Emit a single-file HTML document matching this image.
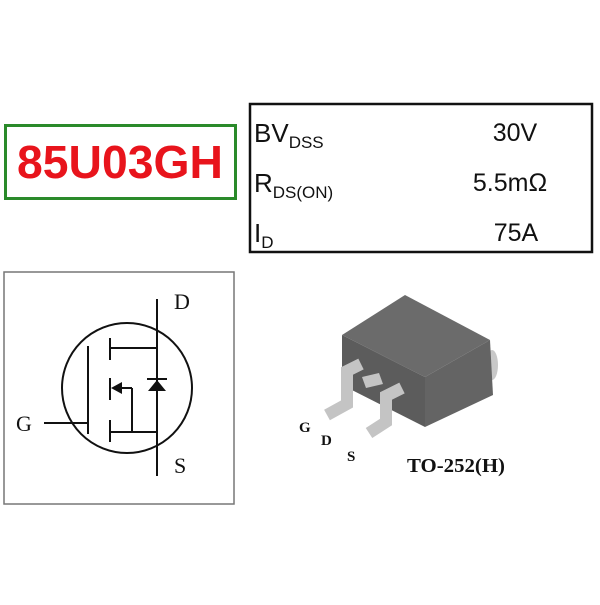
<!DOCTYPE html>
<html><head><style>body{margin:0;background:#fff}</style></head><body>
<svg width="600" height="600" xmlns="http://www.w3.org/2000/svg">
<rect x="5.5" y="125.5" width="230" height="73" fill="none" stroke="#2a8a2a" stroke-width="3"/>
<text x="120" y="178" text-anchor="middle" font-family="Liberation Sans, sans-serif" font-weight="bold" font-size="46" fill="#e8141c" textLength="206" lengthAdjust="spacingAndGlyphs">85U03GH</text>
<rect x="250" y="104" width="342" height="148" fill="none" stroke="#111" stroke-width="2.5"/>
<g font-family="Liberation Sans, sans-serif" fill="#111">
<text x="254" y="142" font-size="26">BV<tspan font-size="17" dy="6">DSS</tspan></text>
<text x="254" y="192" font-size="26">R<tspan font-size="17" dy="6">DS(ON)</tspan></text>
<text x="254" y="242" font-size="26">I<tspan font-size="17" dy="6">D</tspan></text>
<text x="515" y="141" font-size="25" text-anchor="middle">30V</text>
<text x="510" y="191" font-size="25" text-anchor="middle">5.5mΩ</text>
<text x="516" y="241" font-size="25" text-anchor="middle">75A</text>
</g>
<rect x="4" y="272" width="230" height="232" fill="none" stroke="#777" stroke-width="1.5"/>
<g stroke="#111" stroke-width="2" fill="none">
<circle cx="127" cy="388" r="65"/>
<line x1="157" y1="299" x2="157" y2="476"/>
<line x1="44" y1="423" x2="88" y2="423"/>
<line x1="88" y1="346" x2="88" y2="434"/>
<line x1="110" y1="338" x2="110" y2="360"/>
<line x1="110" y1="378" x2="110" y2="400"/>
<line x1="110" y1="420" x2="110" y2="442"/>
<line x1="110" y1="348" x2="157" y2="348"/>
<line x1="110" y1="432" x2="157" y2="432"/>
<line x1="118" y1="388" x2="132" y2="388"/>
<line x1="132" y1="388" x2="132" y2="432"/>
<line x1="147" y1="379" x2="167" y2="379"/>
</g>
<polygon points="111,388 122,382 122,394" fill="#111"/>
<polygon points="157,380 148,391 166,391" fill="#111"/>
<g font-family="Liberation Serif, serif" font-size="22" fill="#111">
<text x="174" y="309">D</text><text x="174" y="473">S</text><text x="16" y="431">G</text>
</g>
<ellipse cx="492" cy="365" rx="6" ry="15" fill="#c8c8c8"/>
<polygon points="342,335 405,295 490,340 425,377" fill="#6b6b6b"/>
<polygon points="342,335 425,377 425,427 342,385" fill="#5c5c5c"/>
<polygon points="425,377 490,340 493,395 425,427" fill="#646464"/>
<g stroke="#c4c4c4" stroke-width="12" fill="none" stroke-linejoin="miter">
<polyline points="361,364 347,371 347,404 327,415"/>
<polyline points="402,388 386,396 386,422 369,433"/>
</g>
<polygon points="362,377 379,373 383,384 366,388" fill="#c4c4c4"/>
<g font-family="Liberation Serif, serif" font-weight="bold" fill="#111">
<text x="299" y="432" font-size="15">G</text>
<text x="321" y="445" font-size="15">D</text>
<text x="347" y="461" font-size="15">S</text>
<text x="407" y="472" font-size="20" textLength="98" lengthAdjust="spacingAndGlyphs">TO-252(H)</text>
</g>
</svg>
</body></html>
